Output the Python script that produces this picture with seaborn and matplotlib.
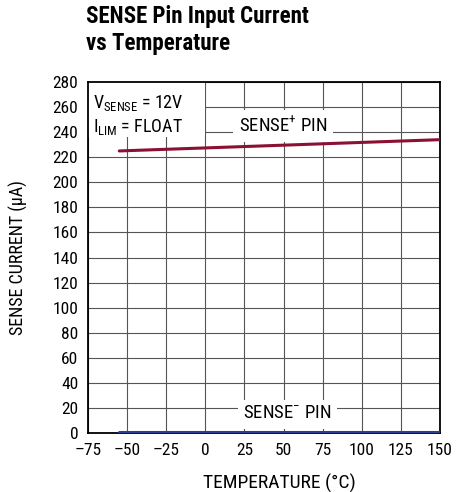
import matplotlib
matplotlib.use("Agg")
import matplotlib.pyplot as plt
import seaborn as sns
import pandas as pd
from matplotlib.patches import Rectangle

# data
temp = [-55, 150]
sense_plus = [225, 234]
sense_minus = [1, 1]

x_ticks = [-75, -50, -25, 0, 25, 50, 75, 100, 125, 150]
y_ticks = list(range(0, 281, 20))

sns.set_style("white")
plt.rcParams['font.family'] = ['Roboto Condensed', 'DejaVu Sans Condensed',
                               'Liberation Sans Narrow', 'Liberation Sans', 'DejaVu Sans']
plt.rcParams['text.color'] = 'black'
plt.rcParams['axes.labelcolor'] = 'black'
plt.rcParams['xtick.color'] = 'black'
plt.rcParams['ytick.color'] = 'black'

df = pd.DataFrame({
    'temp': temp * 2,
    'current': sense_plus + sense_minus,
    'pin': ['plus'] * 2 + ['minus'] * 2,
})

fig = plt.figure(figsize=(4.71, 4.92), dpi=100)
ax = fig.add_axes([88 / 471, 1 - 433 / 492, 352 / 471, 351 / 492])

sns.lineplot(data=df, x='temp', y='current', hue='pin',
             palette={'plus': '#8c1033', 'minus': '#2a3f8f'},
             linewidth=2.2, legend=False, ax=ax, zorder=5)

ax.set_xlim(-75, 150)
ax.set_ylim(0, 280)
ax.set_xticks(x_ticks)
ax.set_yticks(y_ticks)
ax.set_xticklabels([str(t).replace('-', '\u2013') for t in x_ticks])
ax.grid(True, color='#555555', linewidth=0.8)
ax.tick_params(labelsize=12.5, length=0)
ax.tick_params(axis='x', pad=7)
ax.tick_params(axis='y', pad=7)
for s in ax.spines.values():
    s.set_color('black')
    s.set_linewidth(1.3)

ax.set_xlabel('TEMPERATURE (°C)', fontsize=14)
ax.xaxis.set_label_coords(0.545, -0.115)
ax.set_ylabel('SENSE CURRENT (µA)', fontsize=13)
ax.yaxis.set_label_coords(-0.17, 0.5)

# white background behind the condition note
ax.add_patch(Rectangle((-75, 236), 75, 44, facecolor='white', edgecolor='none', zorder=1))
ax.text(-72, 263, '$\\mathregular{V_{SENSE}}$ = 12V', fontsize=13, va='center', ha='left', zorder=2)
ax.text(-72, 244, '$\\mathregular{I_{LIM}}$ = FLOAT', fontsize=13, va='center', ha='left', zorder=2)

box = dict(facecolor='white', edgecolor='none', pad=4)
ax.text(49.5, 245, 'SENSE$^{\\mathregular{+}}$ PIN', fontsize=13.5, ha='center', va='center',
        bbox=box, zorder=2)
ax.text(52.5, 15, 'SENSE$^{\\mathregular{-}}$ PIN', fontsize=13.5, ha='center', va='center',
        bbox=box, zorder=2)

fig.text(86 / 471, 1 - 5 / 492, 'SENSE Pin Input Current\nvs Temperature',
         fontsize=16.5, fontweight='bold', ha='left', va='top', linespacing=1.2)

fig.savefig('out.png', dpi=100)
